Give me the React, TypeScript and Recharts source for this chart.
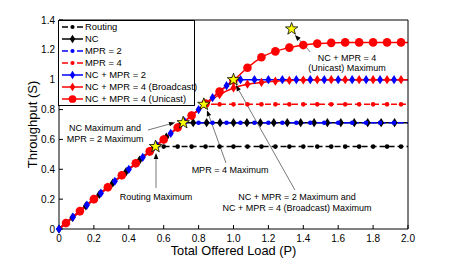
import React from 'react';
import {
  ComposedChart, Line, XAxis, YAxis,
  ReferenceLine, ReferenceDot, Legend,
} from 'recharts';

const FONT = '"Liberation Sans", Arial, Helvetica, sans-serif';

// marker grids (offered load P)
const GRID_A = [0.04, 0.12, 0.2, 0.28, 0.36, 0.44, 0.52, 0.6, 0.68, 0.76, 0.84, 0.92, 1.0,
  1.08, 1.16, 1.24, 1.32, 1.4, 1.48, 1.56, 1.64, 1.72, 1.8, 1.88, 1.96];
const GRID_B = [0, 0.08, 0.16, 0.24, 0.32, 0.4, 0.48, 0.56, 0.64, 0.72, 0.8, 0.88, 0.96,
  1.04, 1.12, 1.2, 1.28, 1.36, 1.44, 1.52, 1.6, 1.68, 1.76, 1.84, 1.92];
const GRID_NC = [0, 0.077, 0.154, 0.231, 0.308, 0.385, 0.462, 0.538, 0.615, 0.692, 0.769,
  0.846, 0.923, 1.0, 1.077, 1.154, 1.231, 1.308, 1.385, 1.462, 1.538, 1.615, 1.692, 1.769,
  1.846, 1.923];

// throughput S at the markers
const ROUTING_S = [0.04, 0.12, 0.2, 0.28, 0.36, 0.44, 0.52, 0.552, 0.552, 0.552, 0.552, 0.552,
  0.552, 0.552, 0.552, 0.552, 0.552, 0.552, 0.552, 0.552, 0.552, 0.552, 0.552, 0.552, 0.552];
const NC_S = [0, 0.077, 0.154, 0.231, 0.308, 0.385, 0.462, 0.538, 0.615, 0.692, 0.712, 0.712,
  0.712, 0.712, 0.712, 0.712, 0.712, 0.712, 0.712, 0.712, 0.712, 0.712, 0.712, 0.712, 0.712, 0.712];
const MPR2_S = [0, 0.08, 0.16, 0.24, 0.32, 0.4, 0.48, 0.56, 0.64, 0.712, 0.712, 0.712, 0.712,
  0.712, 0.712, 0.712, 0.712, 0.712, 0.712, 0.712, 0.712, 0.712, 0.712, 0.712, 0.712];
const MPR4_S = [0.04, 0.12, 0.2, 0.28, 0.36, 0.44, 0.52, 0.6, 0.68, 0.76, 0.835, 0.835, 0.835,
  0.835, 0.835, 0.835, 0.835, 0.835, 0.835, 0.835, 0.835, 0.835, 0.835, 0.835, 0.835];
const NCMPR2_S = [0, 0.08, 0.16, 0.24, 0.32, 0.4, 0.48, 0.56, 0.64, 0.72, 0.8, 0.88, 0.96,
  1.0, 1.0, 1.0, 1.0, 1.0, 1.0, 1.0, 1.0, 1.0, 1.0, 1.0, 1.0];
const BCAST_S = [0.04, 0.12, 0.2, 0.28, 0.36, 0.44, 0.52, 0.6, 0.68, 0.76, 0.835, 0.9, 0.945,
  0.97, 0.982, 0.99, 0.995, 0.998, 1.0, 1.0, 1.0, 1.0, 1.0, 1.0, 1.0];
const UNICAST_S = [0.04, 0.12, 0.2, 0.28, 0.36, 0.44, 0.52, 0.6, 0.68, 0.76, 0.84, 0.92, 0.995,
  1.08, 1.15, 1.19, 1.215, 1.232, 1.242, 1.247, 1.25, 1.25, 1.25, 1.25, 1.25];

// unmarked line vertices (start, corners, end)
const ROUTING_XP = [0, 0.552, 2.0];
const ROUTING_XS = [0, 0.552, 0.552];
const NC_XP = [0.712, 2.0];
const NC_XS = [0.712, 0.712];
const MPR2_XP = [0.712, 2.0];
const MPR2_XS = [0.712, 0.712];
const MPR4_XP = [0, 0.835, 2.0];
const MPR4_XS = [0, 0.835, 0.835];
const NCMPR2_XP = [1.0, 2.0];
const NCMPR2_XS = [1.0, 1.0];
const BCAST_XP = [0, 2.0];
const BCAST_XS = [0, 1.0];
const UNICAST_XP = [0, 2.0];
const UNICAST_XS = [0, 1.25];

// maxima (stars)
const STAR_P = [0.553, 0.712, 0.83, 1.0, 1.333];
const STAR_S = [0.552, 0.712, 0.835, 1.0, 1.34];

// annotations
const NOTE_TEXT = [
  ['NC + MPR = 4', '(Unicast) Maximum'],
  ['MPR = 4 Maximum'],
  ['NC + MPR = 2 Maximum and', 'NC + MPR = 4 (Broadcast) Maximum'],
  ['NC Maximum and', 'MPR = 2 Maximum'],
  ['Routing Maximum'],
];
const NOTE_P = [1.65, 0.98, 1.364, 0.264, 0.556];
const NOTE_S = [1.149, 0.395, 0.216, 0.676, 0.216];
const ARROW_FROM_P = [1.44, 0.957, 1.352, 0.51, 0.556];
const ARROW_FROM_S = [1.186, 0.442, 0.261, 0.663, 0.275];
const ARROW_TO_P = [1.352, 0.848, 1.014, 0.665, 0.556];
const ARROW_TO_S = [1.3, 0.796, 0.964, 0.713, 0.509];

const X_TICKS = [0, 0.2, 0.4, 0.6, 0.8, 1.0, 1.2, 1.4, 1.6, 1.8, 2.0];
const Y_TICKS = [0, 0.2, 0.4, 0.6, 0.8, 1.0, 1.2, 1.4];

interface Pt { p: number; s: number; m: boolean }

function buildSeries(markP: number[], markS: number[], extraP: number[], extraS: number[]): Pt[] {
  const pts: Pt[] = markP.map((p, i) => ({ p, s: markS[i], m: true }));
  extraP.forEach((p, i) => pts.push({ p, s: extraS[i], m: false }));
  return pts.sort((a, b) => a.p - b.p);
}

type Kind = 'dot' | 'diamond' | 'circle';

function Marker({ kind, color, cx, cy, scale = 1 }: { kind: Kind; color: string; cx: number; cy: number; scale?: number }) {
  if (kind === 'dot') return <circle cx={cx} cy={cy} r={2.3 * scale} fill={color} />;
  if (kind === 'circle') return <circle cx={cx} cy={cy} r={4.3 * scale} fill={color} />;
  const w = 3 * scale, h = 4.6 * scale;
  return (
    <polygon
      points={`${cx},${cy - h} ${cx + w},${cy} ${cx},${cy + h} ${cx - w},${cy}`}
      fill={color}
    />
  );
}

const SERIES: { name: string; color: string; dashed: boolean; kind: Kind; curve: 'linear' | 'monotone'; data: Pt[] }[] = [
  { name: 'Routing', color: '#000000', dashed: true, kind: 'dot', curve: 'linear',
    data: buildSeries(GRID_A, ROUTING_S, ROUTING_XP, ROUTING_XS) },
  { name: 'NC', color: '#000000', dashed: false, kind: 'diamond', curve: 'linear',
    data: buildSeries(GRID_NC, NC_S, NC_XP, NC_XS) },
  { name: 'MPR = 2', color: '#0000ff', dashed: true, kind: 'dot', curve: 'linear',
    data: buildSeries(GRID_B, MPR2_S, MPR2_XP, MPR2_XS) },
  { name: 'MPR = 4', color: '#ff0000', dashed: true, kind: 'dot', curve: 'linear',
    data: buildSeries(GRID_A, MPR4_S, MPR4_XP, MPR4_XS) },
  { name: 'NC + MPR = 2', color: '#0000ff', dashed: false, kind: 'diamond', curve: 'linear',
    data: buildSeries(GRID_B, NCMPR2_S, NCMPR2_XP, NCMPR2_XS) },
  { name: 'NC + MPR = 4 (Broadcast)', color: '#ff0000', dashed: false, kind: 'diamond', curve: 'monotone',
    data: buildSeries(GRID_A, BCAST_S, BCAST_XP, BCAST_XS) },
  { name: 'NC + MPR = 4 (Unicast)', color: '#ff0000', dashed: false, kind: 'circle', curve: 'monotone',
    data: buildSeries(GRID_A, UNICAST_S, UNICAST_XP, UNICAST_XS) },
];

const STARS = STAR_P.map((p, i) => ({ p, s: STAR_S[i] }));

function renderDot(kind: Kind, color: string) {
  return (props: any) => {
    const { cx, cy, payload, index } = props;
    if (!payload?.m || cx == null || cy == null) return <g key={`n-${index}`} />;
    return <Marker key={`m-${index}`} kind={kind} color={color} cx={cx} cy={cy} />;
  };
}

function renderStar(props: any) {
  const { cx, cy, index } = props;
  const pts: string[] = [];
  for (let k = 0; k < 10; k++) {
    const r = k % 2 === 0 ? 6.5 : 2.6;
    const a = -Math.PI / 2 + (k * Math.PI) / 5;
    pts.push(`${cx + r * Math.cos(a)},${cy + r * Math.sin(a)}`);
  }
  return <polygon key={`star-${index}`} points={pts.join(' ')} fill="#ffff00" stroke="#000" strokeWidth={0.8} />;
}

function arrowShape(props: any) {
  const { x1, y1, x2, y2 } = props;
  const ang = Math.atan2(y2 - y1, x2 - x1);
  const len = 6, half = 2.3;
  const bx = x2 - len * Math.cos(ang);
  const by = y2 - len * Math.sin(ang);
  const px = -Math.sin(ang) * half;
  const py = Math.cos(ang) * half;
  return (
    <g>
      <line x1={x1} y1={y1} x2={bx} y2={by} stroke="#555" strokeWidth={0.8} />
      <polygon points={`${x2},${y2} ${bx + px},${by + py} ${bx - px},${by - py}`} fill="#000" />
    </g>
  );
}

function noteShape(lines: string[]) {
  return (props: any) => (
    <text x={props.cx} y={props.cy} textAnchor="middle" fontSize={9} fontFamily={FONT} fill="#000">
      {lines.map((l, i) => (
        <tspan key={i} x={props.cx} dy={i === 0 ? '0.35em' : 10.8}>{l}</tspan>
      ))}
    </text>
  );
}

function LegendBox() {
  return (
    <div style={{
      position: 'relative', width: 137, height: 86, border: '1px solid #000',
      boxSizing: 'border-box', background: '#fff', fontFamily: FONT, fontSize: 9.4, color: '#000',
    }}>
      {SERIES.map((s, i) => (
        <div key={s.name} style={{ position: 'absolute', left: 0, top: 0.3 + i * 11.95, height: 12, width: '100%' }}>
          <svg width={24} height={12} style={{ position: 'absolute', left: 3, top: 0 }}>
            {s.dashed ? (
              <>
                <line x1={0} y1={6} x2={6} y2={6} stroke={s.color} strokeWidth={1.5} />
                <line x1={15} y1={6} x2={21} y2={6} stroke={s.color} strokeWidth={1.5} />
              </>
            ) : (
              <line x1={0} y1={6} x2={21} y2={6} stroke={s.color} strokeWidth={1.5} />
            )}
            <Marker kind={s.kind} color={s.color} cx={10.5} cy={6} scale={0.9} />
          </svg>
          <span style={{ position: 'absolute', left: 26, top: 0, lineHeight: '12px', whiteSpace: 'nowrap' }}>
            {s.name}
          </span>
        </div>
      ))}
    </div>
  );
}

const tickStyle = { fontSize: 10, fill: '#000', fontFamily: FONT };

export default function App() {
  return (
    <div style={{ position: 'absolute', left: 0, top: 0, width: 450, height: 259, background: '#fff', fontFamily: FONT }}>
      <ComposedChart width={450} height={259} margin={{ top: 19, right: 41, bottom: 0, left: 0 }}>
        <XAxis
          dataKey="p" type="number" domain={[0, 2]} ticks={X_TICKS} interval={0}
          tickFormatter={v => (v === 0 ? '0' : Number(v).toFixed(1))}
          tick={tickStyle} tickSize={-4} tickMargin={9.5} height={30}
          axisLine={{ stroke: '#000' }} tickLine={{ stroke: '#000' }}
          label={{ value: 'Total Offered Load (P)', position: 'insideBottom', offset: 4, fontSize: 12.8, fill: '#000', fontFamily: FONT }}
        />
        <XAxis
          xAxisId="top" orientation="top" type="number" domain={[0, 2]} ticks={X_TICKS} interval={0}
          allowDataOverflow tick={false} tickSize={-4} height={1}
          axisLine={{ stroke: '#000' }} tickLine={{ stroke: '#000' }}
        />
        <YAxis
          dataKey="s" type="number" domain={[0, 1.4]} ticks={Y_TICKS} interval={0}
          tickFormatter={v => String(Math.round(v * 10) / 10)}
          tick={tickStyle} tickSize={-4} tickMargin={8} width={59}
          axisLine={{ stroke: '#000' }} tickLine={{ stroke: '#000' }}
          label={{
            value: 'Throughput (S)', angle: -90, position: 'insideLeft', offset: 32.5,
            fontSize: 13, fill: '#000', fontFamily: FONT, style: { textAnchor: 'middle' },
          }}
        />
        <YAxis
          yAxisId="right" orientation="right" type="number" domain={[0, 1.4]} ticks={Y_TICKS} interval={0}
          allowDataOverflow tick={false} tickSize={-4} width={1}
          axisLine={{ stroke: '#000' }} tickLine={{ stroke: '#000' }}
        />

        {SERIES.map(s => (
          <Line
            key={s.name}
            name={s.name}
            data={s.data}
            dataKey="s"
            type={s.curve}
            stroke={s.color}
            strokeWidth={1.5}
            strokeDasharray={s.dashed ? '6 3' : undefined}
            dot={renderDot(s.kind, s.color)}
            activeDot={false}
            isAnimationActive={false}
          />
        ))}

        {NOTE_TEXT.map((_, i) => (
          <ReferenceLine
            key={`a-${i}`}
            segment={[{ x: ARROW_FROM_P[i], y: ARROW_FROM_S[i] }, { x: ARROW_TO_P[i], y: ARROW_TO_S[i] }]}
            shape={arrowShape}
            ifOverflow="visible"
          />
        ))}

        <Line
          data={STARS}
          dataKey="s"
          name="Maximum"
          stroke="none"
          legendType="none"
          dot={renderStar}
          activeDot={false}
          isAnimationActive={false}
        />

        {NOTE_TEXT.map((lines, i) => (
          <ReferenceDot
            key={`t-${i}`}
            x={NOTE_P[i]}
            y={NOTE_S[i]}
            r={1}
            shape={noteShape(lines)}
            ifOverflow="visible"
          />
        ))}

        <Legend
          layout="vertical" align="center" verticalAlign="middle"
          wrapperStyle={{ left: 58, top: 20, width: 137, height: 86 }}
          content={() => <LegendBox />}
        />
      </ComposedChart>
    </div>
  );
}
